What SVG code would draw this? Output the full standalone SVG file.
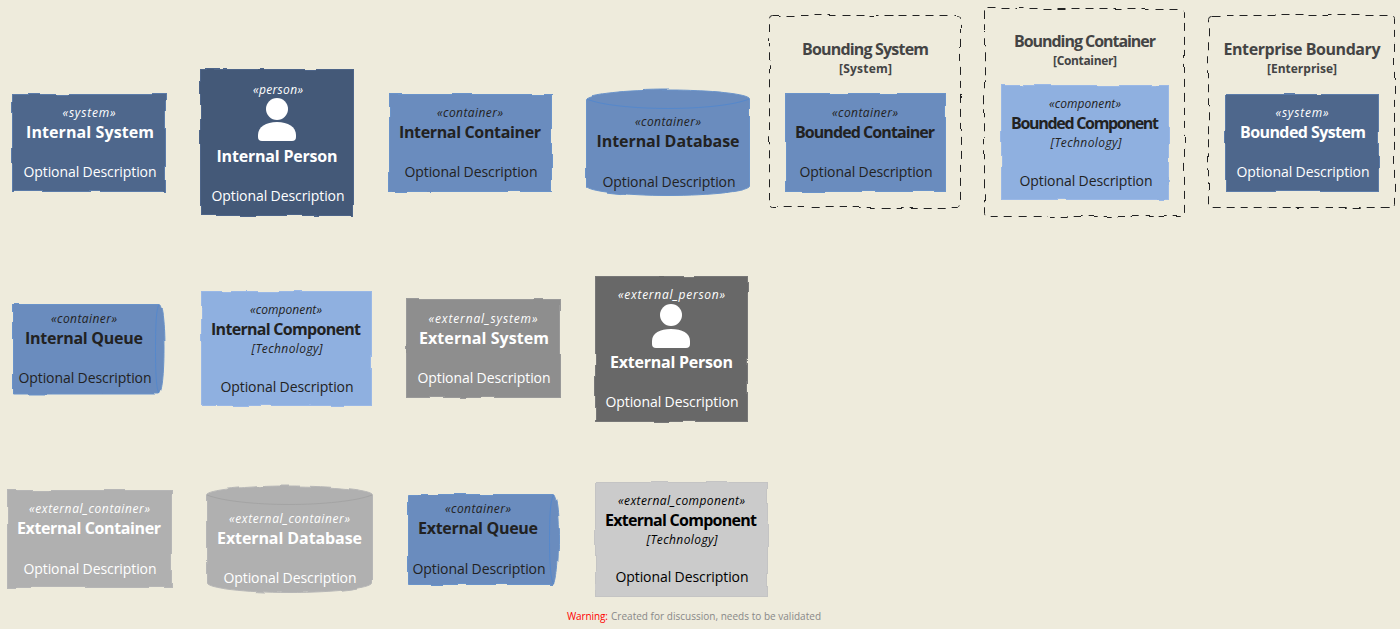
<svg xmlns="http://www.w3.org/2000/svg" width="1400" height="629" viewBox="0 0 1400 629">
<style>
text{font-family:"Open Sans","Noto Sans","DejaVu Sans",sans-serif;text-anchor:middle}
.st{font-size:12px;font-style:italic}
.ti{font-size:16px;font-weight:700}
.de{font-size:14px}
.te{font-size:12px;font-style:italic}
.bt{font-size:16px;font-weight:700;fill:#444}
.bs{font-size:12px;font-weight:700;fill:#444}
.w text{fill:#fff}
.d text{fill:#222}
.k text{fill:#000}
.sh{filter:url(#wob)}
.sys{fill:#4e678c;stroke:#5b7ba8}
.per{fill:#445978;stroke:#4d6488}
.con{fill:#6a8cbe;stroke:#6a93c9}
.cmp{fill:#8fb0e0;stroke:#9ab8e6}
.xsy{fill:#8e8e8e;stroke:#999}
.xpe{fill:#686868;stroke:#777}
.xco{fill:#b0b0b0;stroke:#b6b6b6}
.xcm{fill:#cbcbcb;stroke:#c4c4c4}
.bd{fill:none;stroke:#222;stroke-width:1;stroke-dasharray:8 6}
.ln{fill:none;stroke-width:1}
.ic{fill:#fff}
</style>
<defs>
<filter id="wob" filterUnits="userSpaceOnUse" x="0" y="0" width="1400" height="629" color-interpolation-filters="sRGB">
<feTurbulence type="fractalNoise" baseFrequency="0.04" numOctaves="1" seed="11" result="n"/>
<feDisplacementMap in="SourceGraphic" in2="n" scale="4" xChannelSelector="R" yChannelSelector="G" result="m"/>
<feGaussianBlur in="m" stdDeviation="0.3"/>
</filter>
</defs>
<rect width="1400" height="629" fill="#eeebdc"/>
<g id="connectors"/>

<g id="internal-system" class="w"><rect class="sh sys" x="12.5" y="94.5" width="153" height="97"/>
<text class="st" x="89" y="117" textLength="53">«system»</text><text class="ti" x="90" y="138" textLength="128">Internal System</text><text class="de" x="90" y="177" textLength="133">Optional Description</text></g>

<g id="internal-person" class="w"><rect class="sh per" x="200.5" y="69.5" width="153" height="146"/>
<text class="st" x="278" y="94" textLength="50">«person»</text>
<circle class="ic" cx="277" cy="109" r="11"/><path class="ic" d="M258 135C258 127 266 122 277 122S296 127 296 135V137Q296 141 292 141H262Q258 141 258 137Z"/>
<text class="ti" x="277" y="162" textLength="121">Internal Person</text><text class="de" x="278" y="201" textLength="133">Optional Description</text></g>

<g id="internal-container" class="d"><rect class="sh con" x="389.5" y="94.5" width="162" height="97"/>
<text class="st" x="470" y="117" textLength="66">«container»</text><text class="ti" x="470" y="138" textLength="142">Internal Container</text><text class="de" x="471" y="177" textLength="133">Optional Description</text></g>

<g id="internal-database" class="d"><path class="sh con" d="M586.500 99C586.500 94 625 90 668 90S749.500 94 749.500 99V186C749.500 191 711 195.500 668 195.500S586.500 191 586.500 186Z"/>
<path class="ln" stroke="#5588cc" d="M587 99C600 105 635 108.500 668 108.500S735 105 749 99"/>
<text class="st" x="668" y="126" textLength="66">«container»</text><text class="ti" x="668" y="147" textLength="143">Internal Database</text><text class="de" x="669" y="187" textLength="133">Optional Description</text></g>

<g id="bounding-system"><rect class="sh bd" x="769.500" y="15.500" width="191" height="192" rx="3"/>
<text class="bt" x="865.500" y="55" textLength="127">Bounding System</text><text class="bs" x="865.500" y="73" textLength="53">[System]</text></g>
<g id="bounded-container" class="d"><rect class="sh con" x="785.500" y="93.500" width="160" height="98"/>
<text class="st" x="865" y="117" textLength="66">«container»</text><text class="ti" x="865" y="138" textLength="140">Bounded Container</text><text class="de" x="866" y="177" textLength="133">Optional Description</text></g>

<g id="bounding-container"><rect class="sh bd" x="984.500" y="8.500" width="200" height="208" rx="3"/>
<text class="bt" x="1085" y="47" textLength="142">Bounding Container</text><text class="bs" x="1085" y="65" textLength="64">[Container]</text></g>
<g id="bounded-component" class="d"><rect class="sh cmp" x="1001.500" y="85.500" width="167" height="114"/>
<text class="st" x="1085" y="108" textLength="72">«component»</text><text class="ti" x="1085" y="129" textLength="148">Bounded Component</text><text class="te" x="1086" y="147" textLength="71">[Technology]</text><text class="de" x="1086" y="186" textLength="133">Optional Description</text></g>

<g id="enterprise-boundary"><rect class="sh bd" x="1208.500" y="15.500" width="186" height="192" rx="3"/>
<text class="bt" x="1302" y="55" textLength="157">Enterprise Boundary</text><text class="bs" x="1302" y="73" textLength="70">[Enterprise]</text></g>
<g id="bounded-system" class="w"><rect class="sh sys" x="1225.500" y="94.500" width="153" height="97"/>
<text class="st" x="1302" y="117" textLength="53">«system»</text><text class="ti" x="1303" y="138" textLength="126">Bounded System</text><text class="de" x="1303" y="177" textLength="133">Optional Description</text></g>

<g id="internal-queue" class="d"><path class="sh con" d="M13.500 304.500H159C162 304.500 164 323 164 349S162 394 159 394H13.500Z"/>
<path class="ln" stroke="#5588cc" d="M159 305C156 308 155.500 330 155.500 349S156 390 159 393"/>
<text class="st" x="84" y="323" textLength="66">«container»</text><text class="ti" x="84" y="344" textLength="118">Internal Queue</text><text class="de" x="85" y="383" textLength="133">Optional Description</text></g>

<g id="internal-component" class="d"><rect class="sh cmp" x="201.500" y="291.500" width="170" height="114"/>
<text class="st" x="286" y="314" textLength="72">«component»</text><text class="ti" x="286" y="335" textLength="150">Internal Component</text><text class="te" x="287" y="353" textLength="71">[Technology]</text><text class="de" x="287" y="392" textLength="133">Optional Description</text></g>

<g id="external-system" class="w"><rect class="sh xsy" x="406.500" y="299.500" width="153" height="98"/>
<text class="st" x="483" y="323" textLength="109">«external_system»</text><text class="ti" x="484" y="344" textLength="130">External System</text><text class="de" x="484" y="383" textLength="133">Optional Description</text></g>

<g id="external-person" class="w"><rect class="sh xpe" x="595.500" y="276.500" width="152" height="145"/>
<text class="st" x="671.500" y="299" textLength="107">«external_person»</text>
<circle class="ic" cx="671" cy="315" r="11"/><path class="ic" d="M652 341C652 333 660 329 671 329S690 333 690 341V344Q690 348 686 348H656Q652 348 652 344Z"/>
<text class="ti" x="671.500" y="368" textLength="123">External Person</text><text class="de" x="672" y="407" textLength="133">Optional Description</text></g>

<g id="external-container" class="w"><rect class="sh xco" x="7.500" y="490.500" width="164" height="97"/>
<text class="st" x="89.500" y="513" textLength="121">«external_container»</text><text class="ti" x="89" y="534" textLength="144">External Container</text><text class="de" x="90" y="574" textLength="133">Optional Description</text></g>

<g id="external-database" class="w"><path class="sh xco" d="M206.500 495C206.500 490 245 486 289 486S372.500 490 372.500 495V583C372.500 588 333 592.500 289 592.500S206.500 588 206.500 583Z"/>
<path class="ln" stroke="#a4a4a4" d="M207 495C222 501 256 504.500 289 504.500S357 501 372 495"/>
<text class="st" x="289.500" y="523" textLength="121">«external_container»</text><text class="ti" x="289.500" y="544" textLength="145">External Database</text><text class="de" x="290" y="583" textLength="133">Optional Description</text></g>

<g id="external-queue" class="d"><path class="sh con" d="M407.500 494.500H553C556 494.500 558.500 513 558.500 539S556 584.500 553 584.500H407.500Z"/>
<path class="ln" stroke="#5588cc" d="M554 495C550 498 549.500 520 549.500 539S550 580 554 584"/>
<text class="st" x="478" y="513" textLength="66">«container»</text><text class="ti" x="478" y="534" textLength="120">External Queue</text><text class="de" x="479" y="574" textLength="133">Optional Description</text></g>

<g id="external-component" class="k"><rect class="sh xcm" x="595.500" y="482.500" width="172" height="114"/>
<text class="st" x="681.500" y="505" textLength="127">«external_component»</text><text class="ti" x="681" y="526" textLength="152">External Component</text><text class="te" x="682" y="544" textLength="71">[Technology]</text><text class="de" x="682" y="582" textLength="133">Optional Description</text></g>

<g id="legend"><text x="587.500" y="620" font-size="10" fill="#f00" textLength="41">Warning:</text><text x="716" y="620" font-size="10" fill="#888" textLength="210">Created for discussion, needs to be validated</text></g>
</svg>
